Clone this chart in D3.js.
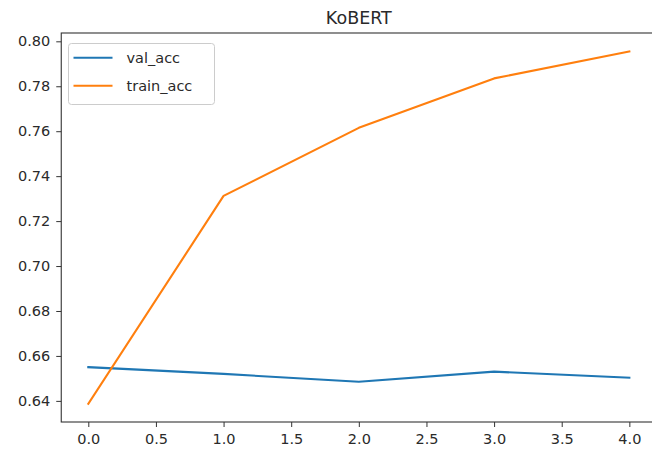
<!DOCTYPE html>
<html><head><meta charset="utf-8">
<script src="https://cdn.jsdelivr.net/npm/d3@7"></script>
<style>body{margin:0;background:#fff;} text{font-family:"DejaVu Sans",sans-serif;}</style>
</head><body><div id="chart"></div>
<script>
const epochs = [0, 1, 2, 3, 4];
const valAcc = [0.655, 0.652, 0.6485, 0.653, 0.6503];
const trainAcc = [0.6387, 0.7312, 0.7615, 0.7835, 0.7955];
const xTicks = [0.0, 0.5, 1.0, 1.5, 2.0, 2.5, 3.0, 3.5, 4.0];
const yTicks = [0.64, 0.66, 0.68, 0.70, 0.72, 0.74, 0.76, 0.78, 0.80];
const seriesNames = ["val_acc", "train_acc"];
const colors = ["#1f77b4", "#ff7f0e"];
const title = "KoBERT";

const W = 652, H = 458;
const mLeft = 61.25, mRight = 656.4, mTop = 33, mBottom = 422;
const svg = d3.select("#chart").append("svg").attr("width", W).attr("height", H);

const x = d3.scaleLinear().domain([-0.2, 4.2]).range([mLeft, mRight]);
const y = d3.scaleLinear().domain([0.6306, 0.8037]).range([mBottom, mTop]);

const xAxis = d3.axisBottom(x).tickValues(xTicks).tickFormat(d3.format(".1f")).tickSize(5).tickPadding(7);
const yAxis = d3.axisLeft(y).tickValues(yTicks).tickFormat(d3.format(".2f")).tickSize(5).tickPadding(6);

const gx = svg.append("g").attr("transform", `translate(0,${mBottom})`).call(xAxis);
const gy = svg.append("g").attr("transform", `translate(${mLeft},0)`).call(yAxis);
[gx, gy].forEach(g => {
  g.select(".domain").remove();
  g.selectAll(".tick line").attr("stroke", "#333").attr("stroke-width", 1);
  g.selectAll(".tick text").attr("fill", "#2a2a2a").style("font-size", "14.5px").style("font-family", "DejaVu Sans");
});

// spines
svg.append("rect").attr("x", mLeft).attr("y", mTop).attr("width", mRight - mLeft).attr("height", mBottom - mTop)
  .attr("fill", "none").attr("stroke", "#333").attr("stroke-width", 1.1);

const line = d3.line().x((d, i) => x(epochs[i])).y(d => y(d));
[valAcc, trainAcc].forEach((s, k) => {
  svg.append("path").datum(s).attr("d", line).attr("fill", "none")
    .attr("stroke", colors[k]).attr("stroke-width", 2.1).attr("stroke-linejoin", "round").attr("stroke-linecap", "square");
});

svg.append("text").attr("x", (mLeft + mRight) / 2).attr("y", 24).attr("text-anchor", "middle")
  .style("font-size", "17.5px").attr("fill", "#2a2a2a").text(title);

// legend
const lg = svg.append("g");
lg.append("rect").attr("x", 68.5).attr("y", 43.5).attr("width", 146).attr("height", 61).attr("rx", 3)
  .attr("fill", "#fff").attr("fill-opacity", 0.8).attr("stroke", "#ccc").attr("stroke-width", 1);
seriesNames.forEach((n, k) => {
  const yy = 57.7 + k * 28;
  lg.append("line").attr("x1", 73.5).attr("x2", 112.5).attr("y1", yy).attr("y2", yy)
    .attr("stroke", colors[k]).attr("stroke-width", 2.1);
  lg.append("text").attr("x", 126.5).attr("y", yy + 5).style("font-size", "14.5px").attr("fill", "#2a2a2a").text(n);
});
</script></body></html>
